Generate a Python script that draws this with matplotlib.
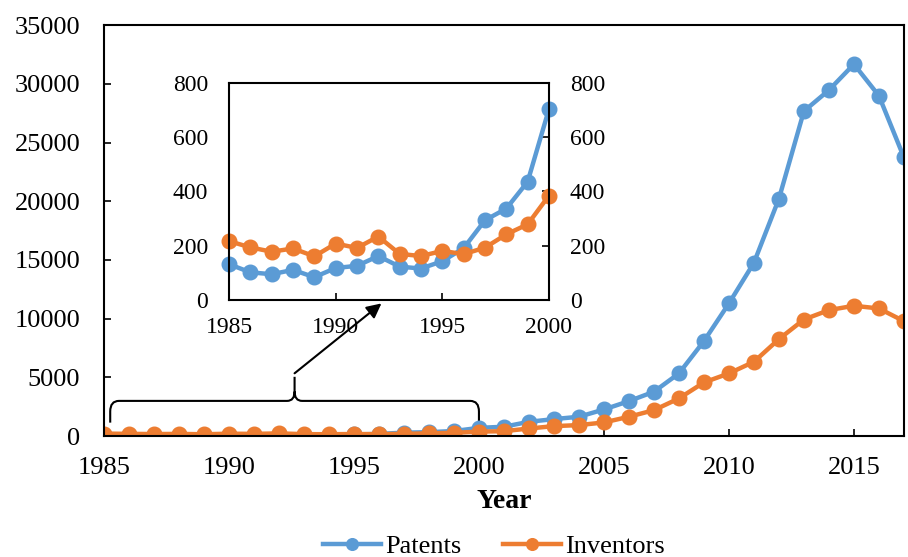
import matplotlib

matplotlib.use("Agg")
import matplotlib.pyplot as plt
from matplotlib.path import Path
from matplotlib.patches import PathPatch

plt.rcParams["font.family"] = ["Liberation Serif", "DejaVu Serif"]

years = list(range(1985, 2018))
patents = [132, 102, 95, 111, 84, 118, 126, 162, 123, 116, 143, 191, 294, 337, 436, 704,
           800, 1220, 1450, 1650, 2270, 2980, 3780, 5340, 8090, 11300, 14760, 20210,
           27670, 29460, 31670, 28980, 23730]
inventors = [217, 194, 178, 190, 161, 208, 192, 234, 170, 162, 181, 169, 193, 242, 279, 385,
             420, 650, 850, 940, 1165, 1650, 2210, 3210, 4570, 5340, 6330, 8260,
             9930, 10730, 11100, 10870, 9790]
inset_end = 2000

BLUE = "#5B9BD5"
ORANGE = "#ED7D31"
line_kw = dict(marker="o", markersize=10.5, linewidth=3.2)

fig = plt.figure(figsize=(9.08, 5.57), dpi=100)
ax = fig.add_axes([0.1145, 0.217, 0.881, 0.738])
ax.plot(years, patents, color=BLUE, label="Patents", **line_kw)
ax.plot(years, inventors, color=ORANGE, label="Inventors", **line_kw)
ax.set_xlim(1985, 2017)
ax.set_ylim(0, 35000)
ax.set_xticks(range(1985, 2016, 5))
ax.set_yticks(range(0, 35001, 5000))
ax.tick_params(direction="in", length=5, width=1.2, labelsize=19)
ax.tick_params(axis="x", pad=15)
ax.tick_params(axis="y", pad=17)
for s in ax.spines.values():
    s.set_linewidth(1.5)
ax.set_xlabel("Year", fontsize=20, fontweight="bold", labelpad=7)
for lab in ax.get_xticklabels() + ax.get_yticklabels():
    lab.set_clip_on(False)
fig.legend(handles=ax.get_lines(), loc="center", bbox_to_anchor=(494 / 908, 0.019), ncol=2,
           frameon=False, fontsize=19, handlelength=2.2, columnspacing=1.6,
           handletextpad=0.15, borderpad=0, markerscale=0.8)

# curly brace below the inset range
x0, x1 = years[0] + 0.25, inset_end
xm = (x0 + x1) / 2
ylo, yhi, ytip = 1150, 3000, 5050
rx, ry = 0.35, 900
mx, my = 0.3, 800
verts = [(x0, ylo), (x0, yhi - ry), (x0, yhi), (x0 + rx, yhi),
         (xm - mx, yhi), (xm, yhi), (xm, yhi + my), (xm, ytip),
         (xm, yhi + my), (xm, yhi), (xm + mx, yhi),
         (x1 - rx, yhi), (x1, yhi), (x1, yhi - ry), (x1, ylo)]
codes = [Path.MOVETO, Path.LINETO, Path.CURVE3, Path.CURVE3,
         Path.LINETO, Path.CURVE3, Path.CURVE3, Path.LINETO,
         Path.MOVETO, Path.CURVE3, Path.CURVE3,
         Path.LINETO, Path.CURVE3, Path.CURVE3, Path.LINETO]
ax.add_patch(PathPatch(Path(verts, codes), fill=False, lw=1.5, color="black"))
ax.annotate("", xy=(1996.1, 11300), xytext=(xm, 5350),
            arrowprops=dict(arrowstyle="-|>", color="black", lw=1.5, mutation_scale=22,
                            shrinkA=0, shrinkB=0))

# inset
ins = fig.add_axes([0.2522, 0.4614, 0.3524, 0.3896])
n = years.index(inset_end) + 1
ins.plot(years[:n], patents[:n], color=BLUE, **line_kw)
ins.plot(years[:n], inventors[:n], color=ORANGE, **line_kw)
ins.set_xlim(1985, 2000)
ins.set_ylim(0, 800)
ins.set_xticks(range(1985, 2001, 5))
ins.set_yticks(range(0, 801, 200))
ins.tick_params(direction="in", length=5, width=1.2, labelsize=17,
                right=True, labelright=True, left=False)
ins.tick_params(axis="x", pad=12)
ins.tick_params(axis="y", pad=15)
for s in ins.spines.values():
    s.set_linewidth(1.5)
for lab in ins.get_xticklabels() + ins.get_yticklabels():
    lab.set_clip_on(False)
for line in ins.get_lines():
    line.set_clip_on(False)

fig.savefig("out.png", dpi=100)
